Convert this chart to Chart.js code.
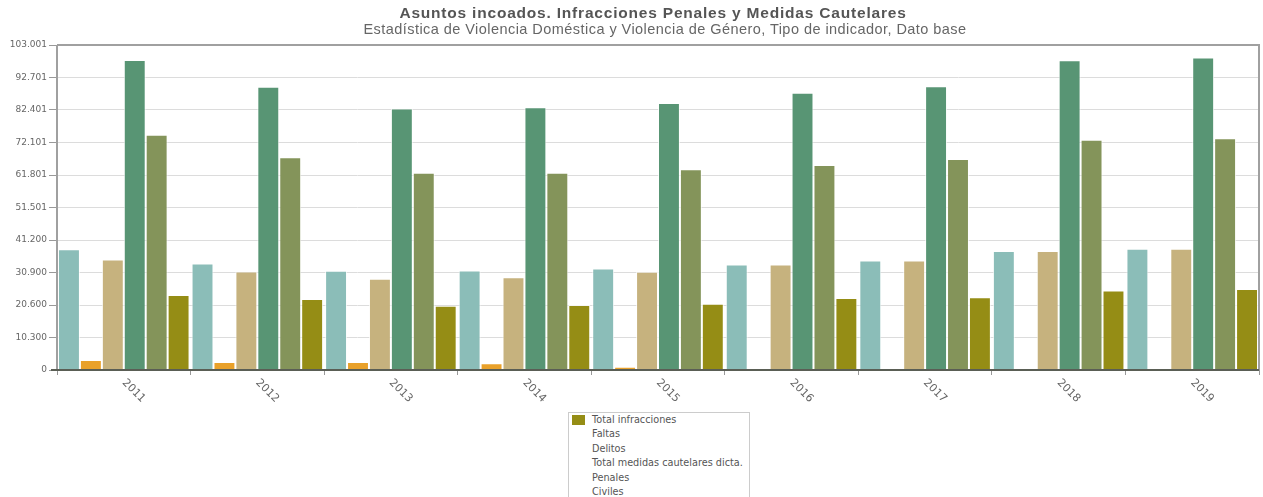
<!DOCTYPE html>
<html><head><meta charset="utf-8">
<script src="https://cdn.jsdelivr.net/npm/chart.js@4.4.1/dist/chart.umd.min.js"></script>
<style>
html,body{margin:0;padding:0;background:#fff;}
#wrap{position:relative;width:1263px;height:497px;overflow:hidden;background:#fff;}
#c{position:absolute;left:0;top:0;}
.title{position:absolute;left:0;width:1306px;top:5px;text-align:center;font:bold 15.5px "Liberation Sans",Arial,sans-serif;letter-spacing:0.8px;color:#555;line-height:16px;white-space:nowrap;}
.subtitle{position:absolute;left:0;width:1330px;top:21px;text-align:center;font:14.5px "Liberation Sans",Arial,sans-serif;letter-spacing:0.45px;color:#666;line-height:16px;white-space:nowrap;}
#legend{position:absolute;left:568px;top:412px;width:180px;height:110px;border:1px solid #ccc;background:#fff;}
#legend div{position:absolute;left:23px;font:9.7px "DejaVu Sans",sans-serif;color:#555;white-space:nowrap;line-height:11px;}
#legend span{position:absolute;left:3px;top:2px;width:13px;height:10px;}
</style></head>
<body><div id="wrap">
<canvas id="c" width="1263" height="497"></canvas>
<div class="title">Asuntos incoados. Infracciones Penales y Medidas Cautelares</div>
<div class="subtitle">Estadística de Violencia Doméstica y Violencia de Género, Tipo de indicador, Dato base</div>
<div id="legend"></div>
</div>
<script>
const years = ['2011','2012','2013','2014','2015','2016','2017','2018','2019'];
const totalInfracciones = [38230, 33770, 31450, 31540, 32180, 33450, 34730, 37690, 38460];
const faltas = [3190, 2550, 2550, 2140, 1050, 0, 0, 0, 0];
const delitos = [35040, 31220, 28900, 29400, 31130, 33450, 34680, 37690, 38460];
const totalMedidas = [98230, 89750, 82840, 83250, 84650, 87840, 89940, 98130, 99000];
const penales = [74550, 67450, 62540, 62540, 63620, 64990, 66910, 72960, 73450];
const civiles = [23800, 22530, 20390, 20610, 21030, 22850, 23040, 25170, 25700];
const seriesNames = ['Total infracciones','Faltas','Delitos','Total medidas cautelares dicta.','Penales','Civiles'];
const seriesColors = ['#8bbdb8','#e9a12a','#c6b27e','#589574','#84945a','#958d15'];
const yTickValues = [0, 10300.1, 20600.2, 30900.3, 41200.4, 51500.5, 61800.6, 72100.7, 82400.8, 92700.9, 103001];
const yTickLabels = ['0','10.300','20.600','30.900','41.200','51.501','61.801','72.101','82.401','92.701','103.001'];
const legendItems = ['Total infracciones','Faltas','Delitos','Total medidas cautelares dicta.','Penales','Civiles'];
const legendSwatch = '#958d15';

// HTML legend
const lg = document.getElementById('legend');
legendItems.forEach((t,i)=>{
  const d = document.createElement('div');
  d.style.top = (1 + i*14.4) + 'px';
  d.textContent = t;
  lg.appendChild(d);
  if(i===0){ const s=document.createElement('span'); s.style.background=legendSwatch; s.style.top=(2)+'px'; lg.appendChild(s); }
});

const allSeries = [totalInfracciones, faltas, delitos, totalMedidas, penales, civiles];
const datasets = allSeries.map((d,i)=>({
  label: seriesNames[i], data: d, backgroundColor: seriesColors[i],
  borderColor: 'rgba(255,255,255,0.75)', borderWidth: 1,
  barPercentage: 1, categoryPercentage: 0.985
}));

const framePlugin = {
  id:'frame',
  afterDraw(chart){
    const ctx = chart.ctx, a = chart.chartArea;
    ctx.save();
    ctx.strokeStyle = '#a0a0a0'; ctx.lineWidth = 2;
    ctx.beginPath();
    ctx.moveTo(a.left, a.top); ctx.lineTo(a.right, a.top); ctx.lineTo(a.right, a.bottom);
    ctx.stroke();
    ctx.strokeStyle = '#a0a0a0'; ctx.lineWidth = 2;
    ctx.beginPath(); ctx.moveTo(a.left, a.top); ctx.lineTo(a.left, a.bottom+1); ctx.stroke();
    ctx.strokeStyle = '#5a5e55'; ctx.lineWidth = 2;
    ctx.beginPath(); ctx.moveTo(a.left-6, a.bottom); ctx.lineTo(a.right, a.bottom); ctx.stroke();
    // x labels rotated clockwise
    const xs = chart.scales.x;
    ctx.fillStyle = '#666';
    ctx.font = '11px "DejaVu Sans", sans-serif';
    ctx.textAlign = 'left'; ctx.textBaseline = 'middle';
    years.forEach((y,i)=>{
      const x = xs.getPixelForValue(i);
      ctx.save();
      ctx.translate(x, a.bottom + 11);
      ctx.rotate(Math.PI/4);
      ctx.fillText(y, 0, 0);
      ctx.restore();
    });
    ctx.restore();
  }
};

new Chart(document.getElementById('c'), {
  type:'bar',
  data:{ labels: years, datasets },
  options:{
    responsive:false, animation:false,
    layout:{ padding:{ top:45, right:4, left:0, bottom:0 } },
    plugins:{ legend:{display:false}, title:{display:false}, tooltip:{enabled:false} },
    scales:{
      x:{
        grid:{ display:true, drawOnChartArea:false, offset:true, tickLength:5, tickColor:'#999', lineWidth:1 },
        border:{ display:false },
        ticks:{ display:false },
        afterFit(s){ s.height = 127; }
      },
      y:{
        min:0, max:103001,
        afterBuildTicks(s){ s.ticks = yTickValues.map(v=>({value:v})); },
        ticks:{
          callback(v, i){ return yTickLabels[i]; },
          color:'#666', font:{ family:'"DejaVu Sans", sans-serif', size:9 }, padding:2, autoSkip:false
        },
        grid:{ color:'#dcdcdc', tickColor:'#999', tickLength:8, lineWidth:1 },
        border:{ display:false },
        afterFit(s){ s.width = 57; }
      }
    }
  },
  plugins:[framePlugin]
});
</script>
</body></html>
